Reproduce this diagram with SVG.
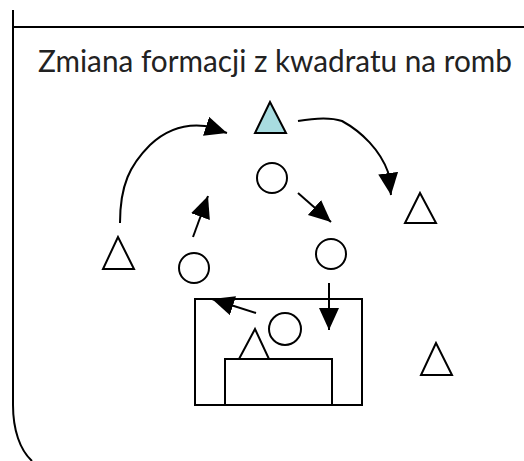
<svg xmlns="http://www.w3.org/2000/svg" width="524" height="461" viewBox="0 0 524 461">
<style>
.ln{fill:none;stroke:#000;stroke-width:2}
.sh{fill:#fff;stroke:#000;stroke-width:2}
.tt{font-family:Lato,"Open Sans","Liberation Sans",sans-serif;font-size:30px;fill:#222}
</style>
<defs>
<marker id="ah" markerUnits="userSpaceOnUse" markerWidth="24" markerHeight="22" refX="22" refY="10" orient="auto">
<path d="M0,0 L22,10 L0,20 Z" fill="#000"/>
</marker>
</defs>
<rect width="524" height="461" fill="#fff"/>
<g id="frame">
<path class="ln" d="M13,10 L13,405 C13,430 20,450 32,461"/>
<path class="ln" d="M13,27 L524,27"/>
</g>
<text class="tt" x="38" y="72" textLength="474" lengthAdjust="spacingAndGlyphs">Zmiana formacji z kwadratu na romb</text>
<g id="goal">
<rect class="ln" x="195" y="299" width="167" height="106"/>
<rect class="ln" x="225" y="359" width="107" height="46"/>
</g>
<g id="t-top"><polygon points="270,102 255,133 286,133" fill="#a8dce0" stroke="#000" stroke-width="2"/></g>
<g id="t-left"><polygon class="sh" points="118,237 103,269 134,269"/></g>
<g id="t-right"><polygon class="sh" points="420,193 405,223 436,223"/></g>
<g id="t-br"><polygon class="sh" points="436,343 421,375 452,375"/></g>
<g id="t-goal"><polygon class="sh" points="255,329 239,359 269,359"/></g>
<g id="c-top"><circle class="sh" cx="272" cy="178" r="15"/></g>
<g id="c-left"><circle class="sh" cx="194" cy="268" r="15"/></g>
<g id="c-right"><circle class="sh" cx="331" cy="254" r="15"/></g>
<g id="c-goal"><circle class="sh" cx="285" cy="329" r="16"/></g>
<g id="connectors">
<path class="ln" d="M120,223 C120,185 130,165 150,145 C168,128 188,124 205,126 L227,133" marker-end="url(#ah)"/>
<path class="ln" d="M298,121 C315,118 330,117 342,121 C362,132 380,150 388,172 L391,195" marker-end="url(#ah)"/>
<path class="ln" d="M298,193 L331,222" marker-end="url(#ah)"/>
<path class="ln" d="M193,237 L208,196" marker-end="url(#ah)"/>
<path class="ln" d="M329,283 L329,330" marker-end="url(#ah)"/>
<path class="ln" d="M256,313 L212,299" marker-end="url(#ah)"/>
</g>
</svg>
